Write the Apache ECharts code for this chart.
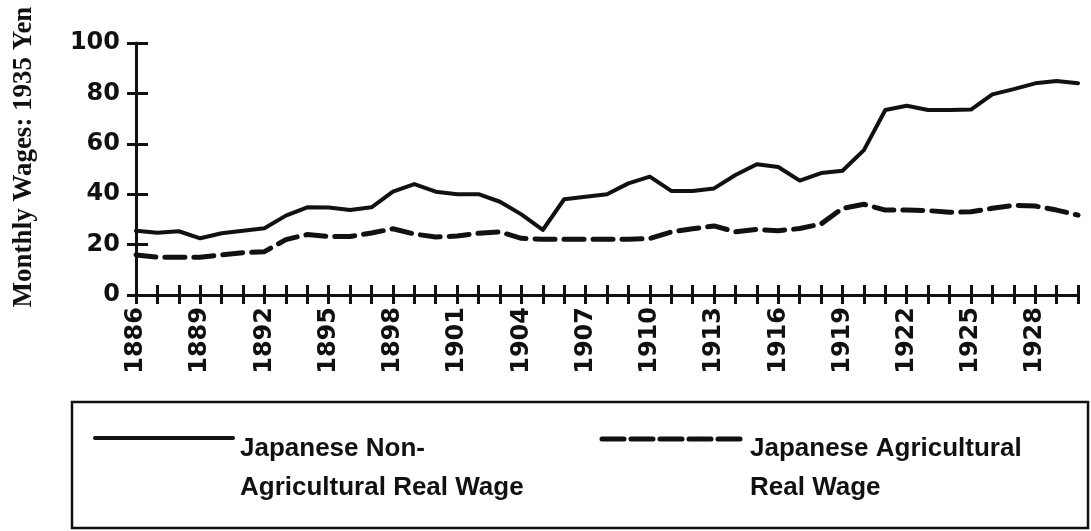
<!DOCTYPE html>
<html>
<head>
<meta charset="utf-8">
<script src="https://cdn.jsdelivr.net/npm/echarts@6/dist/echarts.min.js"></script>
<style>
  html, body { margin: 0; padding: 0; background: #fff; }
  #chart { width: 1091px; height: 531px; }
</style>
</head>
<body>
<div id="chart"></div>
<script>
// years on the x axis
const years = [
  '1886', '1887', '1888', '1889', '1890', '1891', '1892', '1893', '1894', '1895',
  '1896', '1897', '1898', '1899', '1900', '1901', '1902', '1903', '1904', '1905',
  '1906', '1907', '1908', '1909', '1910', '1911', '1912', '1913', '1914', '1915',
  '1916', '1917', '1918', '1919', '1920', '1921', '1922', '1923', '1924', '1925',
  '1926', '1927', '1928', '1929', '1930',
]

// monthly wages, 1935 yen
const nonAgricultural = [
  25.5, 24.7, 25.3, 22.5, 24.5, 25.5, 26.5, 31.5, 34.8, 34.7,
  33.7, 34.8, 41.0, 44.0, 41.0, 40.0, 40.0, 37.0, 32.0, 25.8,
  38.0, 39.0, 40.0, 44.3, 47.0, 41.3, 41.3, 42.3, 47.6, 51.9,
  50.8, 45.4, 48.4, 49.3, 57.5, 73.4, 75.1, 73.4, 73.4, 73.6,
  79.6, 81.7, 84.0, 84.9, 84.0,
]
const agricultural = [
  15.9, 15.0, 15.0, 15.0, 15.9, 16.8, 17.2, 22.0, 24.0, 23.2,
  23.2, 24.6, 26.3, 24.2, 23.0, 23.4, 24.5, 25.0, 22.5, 22.1,
  22.1, 22.1, 22.1, 22.1, 22.4, 25.0, 26.3, 27.4, 25.1, 26.0,
  25.5, 26.4, 28.2, 34.4, 36.0, 33.7, 33.7, 33.5, 32.8, 33.0,
  34.4, 35.6, 35.3, 33.7, 31.7,
]

const seriesNames = [
  'Japanese Non-\nAgricultural Real Wage',
  'Japanese Agricultural\nReal Wage',
]
const yTitle = 'Monthly Wages: 1935 Yen'

const ink = '#111'
const tickFont = { color: ink, fontFamily: 'DejaVu Sans', fontWeight: 'bold', fontSize: 24 }
const legendFont = 'bold 26px "Liberation Sans"'

const chart = echarts.init(document.getElementById('chart'), null, { renderer: 'canvas' })

chart.setOption({
  animation: false,
  backgroundColor: '#fff',
  grid: { left: 136, right: 13, top: 43, bottom: 236, outerBoundsMode: 'none' },
  xAxis: [
    {
      type: 'category',
      data: years,
      boundaryGap: false,
      axisLine: { lineStyle: { color: ink, width: 3 } },
      axisTick: { interval: 0, length: 9, lineStyle: { color: ink, width: 3 } },
      axisLabel: { ...tickFont, interval: 2, rotate: 90, margin: 12 },
      splitLine: { show: false },
    },
    {
      // upper half of the crossing ticks
      type: 'category',
      data: years,
      boundaryGap: false,
      position: 'bottom',
      axisLine: { show: false },
      axisTick: { inside: true, interval: 0, length: 10, lineStyle: { color: ink, width: 3 } },
      axisLabel: { show: false },
      splitLine: { show: false },
    },
  ],
  yAxis: [
    {
      type: 'value',
      min: 0,
      max: 100,
      interval: 20,
      name: yTitle,
      nameLocation: 'middle',
      nameRotate: 90,
      nameGap: 98,
      nameTextStyle: {
        color: ink,
        fontFamily: 'Liberation Serif',
        fontWeight: 'bold',
        fontSize: 27,
        padding: [0, 0, 0, 24],
      },
      axisLine: { show: true, lineStyle: { color: ink, width: 3 } },
      axisTick: { show: true, length: 9, lineStyle: { color: ink, width: 3 } },
      axisLabel: { ...tickFont, margin: 16 },
      splitLine: { show: false },
    },
    {
      // right half of the crossing ticks
      type: 'value',
      min: 0,
      max: 100,
      interval: 20,
      position: 'left',
      axisLine: { show: false },
      axisTick: { show: true, inside: true, length: 12, lineStyle: { color: ink, width: 3 } },
      axisLabel: { show: false },
      splitLine: { show: false },
    },
  ],
  series: [
    {
      name: seriesNames[0],
      type: 'line',
      data: nonAgricultural,
      showSymbol: false,
      smooth: false,
      lineStyle: { color: ink, width: 4, cap: 'round', join: 'round' },
    },
    {
      name: seriesNames[1],
      type: 'line',
      data: agricultural,
      showSymbol: false,
      smooth: false,
      lineStyle: { color: ink, width: 5, type: [20, 9], cap: 'round', join: 'round' },
    },
  ],
  graphic: [
    {
      type: 'rect',
      shape: { x: 72, y: 402, width: 1016, height: 126 },
      style: { fill: 'none', stroke: ink, lineWidth: 2.5 },
    },
    {
      type: 'line',
      shape: { x1: 95, y1: 438, x2: 233, y2: 438 },
      style: { stroke: ink, lineWidth: 4, lineCap: 'round' },
    },
    {
      type: 'text',
      x: 240,
      y: 429,
      style: { text: seriesNames[0], fill: ink, font: legendFont, lineHeight: 39, verticalAlign: 'top' },
    },
    {
      type: 'line',
      shape: { x1: 602, y1: 439, x2: 742, y2: 439 },
      style: { stroke: ink, lineWidth: 5, lineDash: [22, 7], lineCap: 'round' },
    },
    {
      type: 'text',
      x: 750,
      y: 429,
      style: { text: seriesNames[1], fill: ink, font: legendFont, lineHeight: 39, verticalAlign: 'top' },
    },
  ],
})
</script>
</body>
</html>
